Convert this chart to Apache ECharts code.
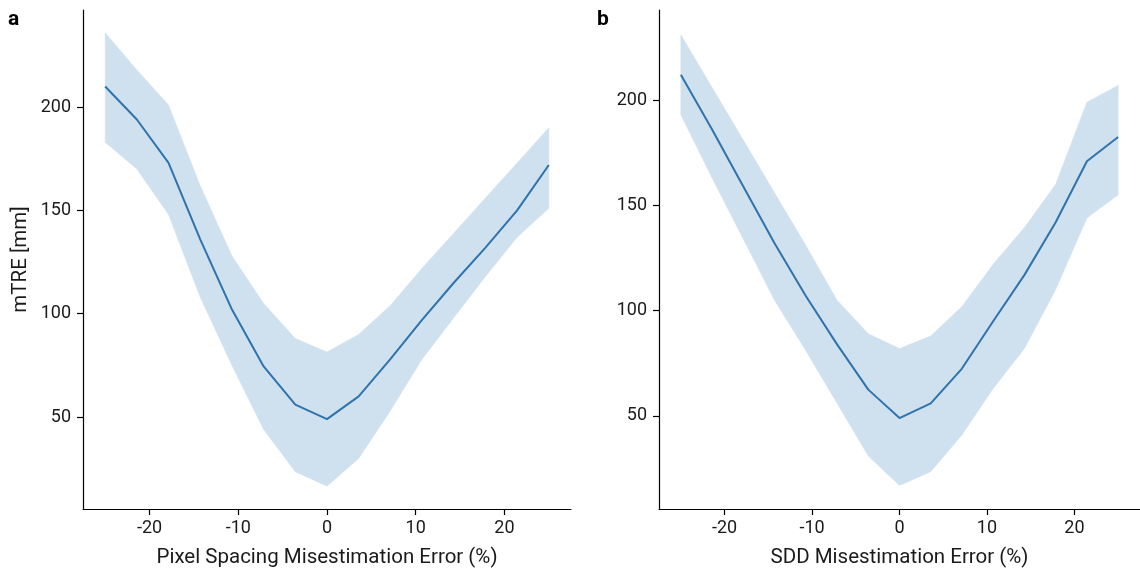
<!DOCTYPE html>
<html>
<head>
<meta charset="utf-8">
<script src="https://cdn.jsdelivr.net/npm/echarts@6/dist/echarts.min.js"></script>
<style>
html,body{margin:0;padding:0;background:#fff;}
#chart{width:1140px;height:573px;}
</style>
</head>
<body>
<div id="chart"></div>
<script>
// ---- data ----
const xValues = [-25, -21.43, -17.86, -14.29, -10.71, -7.14, -3.57, 0, 3.57, 7.14, 10.71, 14.29, 17.86, 21.43, 25];

const pixelMean  = [210, 194, 173, 136, 102, 74.5, 56, 49, 60, 78, 97, 115, 132, 150, 172];
const pixelUpper = [236, 218, 201, 162, 128, 105, 88, 81.5, 90, 104, 122, 139, 156, 173, 190];
const pixelLower = [183, 170, 148, 108, 75, 44, 23.5, 16.5, 30, 53, 78, 98, 118, 137, 151];

const sddMean  = [212, 186, 159, 132, 107, 84, 62.5, 49, 56, 72.5, 95, 117, 142, 171, 182.5];
const sddUpper = [231, 206, 181, 156, 131, 105, 89, 82, 88, 102, 122, 139.5, 160, 199, 207];
const sddLower = [193, 163, 134, 105, 81, 56, 31, 17, 23.5, 41, 63, 82, 110, 144, 155];

const xTickValues = [-20, -10, 0, 10, 20];
const yTickValues = [50, 100, 150, 200];

const panelLabels = ['a', 'b'];
const xTitles = ['Pixel Spacing Misestimation Error (%)', 'SDD Misestimation Error (%)'];
const yTitle = 'mTRE [mm]';

// ---- build ----
const FONT = 'Roboto';
const LINE = '#2f73ad';
const BAND = '#cfe1ef';
const TXT = '#1a1a1a';

function pairs(xs, ys) { return xs.map((x, i) => [x, ys[i]]); }

function xAxis(idx, name) {
  return {
    type: 'value', gridIndex: idx, min: -27.5, max: 27.5,
    name: name, nameLocation: 'middle', nameGap: 38,
    nameTextStyle: { fontFamily: FONT, fontSize: 20.5, color: TXT },
    axisLine: { show: true, onZero: false, lineStyle: { color: '#000', width: 1.2 } },
    axisTick: { show: true, length: 6, lineStyle: { color: '#000', width: 1.2 }, customValues: xTickValues },
    axisLabel: { fontFamily: FONT, fontSize: 18, color: TXT, margin: 10, customValues: xTickValues },
    splitLine: { show: false }
  };
}
function yAxis(idx, min, max, name) {
  return {
    type: 'value', gridIndex: idx, min: min, max: max,
    name: name, nameLocation: 'middle', nameGap: 52,
    nameTextStyle: { fontFamily: FONT, fontSize: 20.5, color: TXT },
    axisLine: { show: true, onZero: false, lineStyle: { color: '#000', width: 1.2 } },
    axisTick: { show: true, length: 6, lineStyle: { color: '#000', width: 1.2 }, customValues: yTickValues },
    axisLabel: { fontFamily: FONT, fontSize: 18, color: TXT, margin: 12, customValues: yTickValues },
    splitLine: { show: false }
  };
}
function bandSeries(idx, lower, upper, mean) {
  const bandData = xValues.map((x, i) => [x, lower[i], upper[i]]);
  return [
    {
      type: 'custom', xAxisIndex: idx, yAxisIndex: idx, data: bandData, silent: true, z: 1,
      encode: { x: 0, y: [1, 2] },
      renderItem: function (params, api) {
        if (params.dataIndex !== 0) return null;
        const top = bandData.map(d => api.coord([d[0], d[2]]));
        const bot = bandData.map(d => api.coord([d[0], d[1]])).reverse();
        return {
          type: 'polygon',
          shape: { points: top.concat(bot) },
          style: { fill: BAND, stroke: BAND, lineWidth: 0.5 }
        };
      }
    },
    { type: 'line', xAxisIndex: idx, yAxisIndex: idx, data: pairs(xValues, mean),
      symbol: 'none', lineStyle: { color: LINE, width: 2 }, z: 3 }
  ];
}

const chart = echarts.init(document.getElementById('chart'), null, { renderer: 'canvas' });
chart.setOption({
  animation: false,
  backgroundColor: '#fff',
  title: [
    { text: panelLabels[0], left: 3, top: 4, textStyle: { fontFamily: FONT, fontSize: 21, fontWeight: 'bold', color: '#000' } },
    { text: panelLabels[1], left: 592, top: 4, textStyle: { fontFamily: FONT, fontSize: 21, fontWeight: 'bold', color: '#000' } }
  ],
  grid: [
    { left: 83, top: 10, width: 488, height: 504 },
    { left: 659, top: 10, width: 489, height: 504 }
  ],
  xAxis: [xAxis(0, xTitles[0]), xAxis(1, xTitles[1])],
  yAxis: [yAxis(0, 5.5, 247, yTitle), yAxis(1, 5.8, 242.8, '')],
  series: [].concat(
    bandSeries(0, pixelLower, pixelUpper, pixelMean),
    bandSeries(1, sddLower, sddUpper, sddMean)
  )
});
</script>
</body>
</html>
